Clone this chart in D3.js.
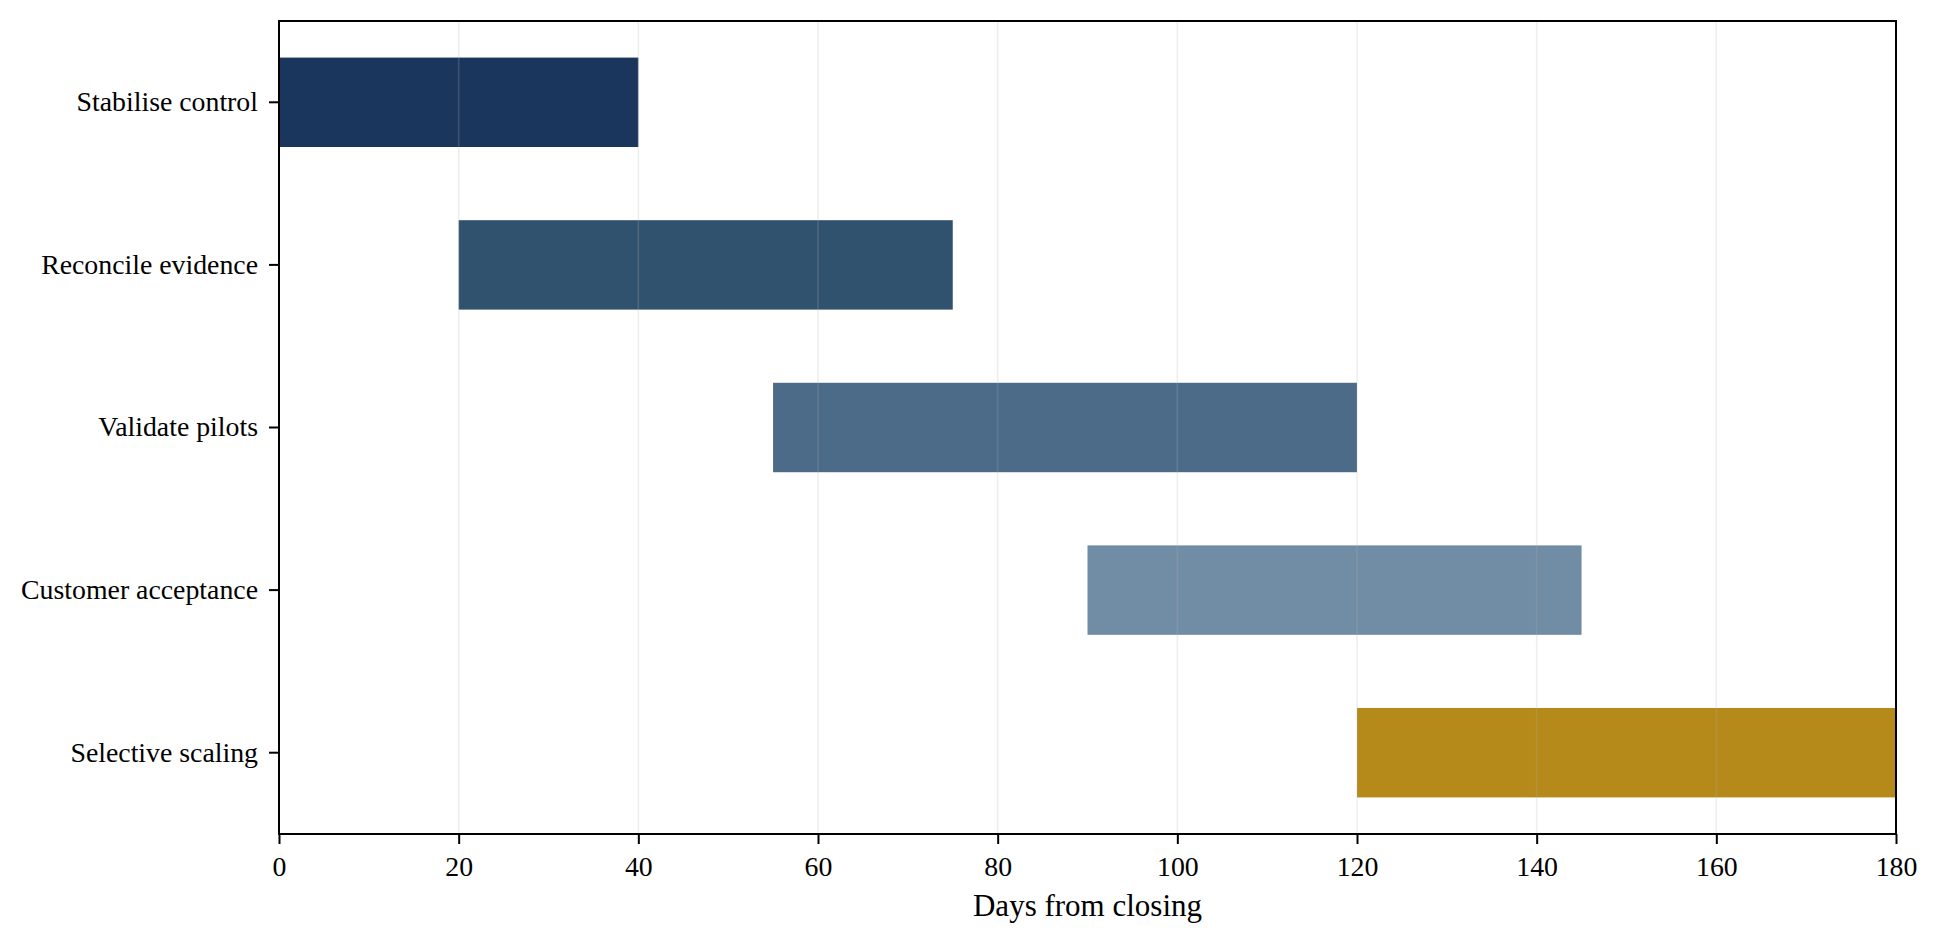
<!DOCTYPE html>
<html>
<head>
<meta charset="utf-8">
<script src="https://cdn.jsdelivr.net/npm/d3@7"></script>
<style>
    body { margin: 0; background: #fff; }
    text { font-family: "Liberation Serif", "Times New Roman", serif; fill: #000; }
</style>
</head>
<body>
<div id="chart"></div>
<script>
var tasks = ["Stabilise control", "Reconcile evidence", "Validate pilots", "Customer acceptance", "Selective scaling"];
var starts = [0, 20, 55, 90, 120];
var ends = [40, 75, 120, 145, 180];
var colors = ["#1b365d", "#31526f", "#4c6b88", "#718ca5", "#b5891a"];
var xTicks = [0, 20, 40, 60, 80, 100, 120, 140, 160, 180];

var width = 1938;
var height = 945;
var leftMargin = 279;
var rightMargin = 42;
var topMargin = 21;
var bottomMargin = 111;
var plotW = width - leftMargin - rightMargin;
var plotH = height - topMargin - bottomMargin;

var rows = tasks.map(function(t, i) {
    return { task: t, start: starts[i], end: ends[i], color: colors[i] };
});

// x scale
var xScale = d3.scaleLinear()
    .domain([0, 180])
    .range([0, plotW]);

// y scale, one band per task
var yScale = d3.scaleBand()
    .domain(tasks)
    .range([0, plotH])
    .paddingInner(0.45)
    .paddingOuter(0.225);

var svg = d3.select("#chart")
    .append("svg")
    .attr("width", width)
    .attr("height", height);

var canvas = svg.append("g")
    .attr("transform", "translate(" + leftMargin + "," + topMargin + ")");

// bars
canvas.append("g")
    .selectAll("rect")
    .data(rows)
    .enter()
    .append("rect")
    .attr("x", function(d) { return xScale(d.start); })
    .attr("y", function(d) { return yScale(d.task); })
    .attr("width", function(d) { return xScale(d.end) - xScale(d.start); })
    .attr("height", yScale.bandwidth())
    .style("fill", function(d) { return d.color; });

// vertical grid, drawn over the bars
canvas.append("g")
    .selectAll("line")
    .data(xTicks)
    .enter()
    .append("line")
    .attr("x1", function(d) { return xScale(d); })
    .attr("x2", function(d) { return xScale(d); })
    .attr("y1", 0)
    .attr("y2", plotH)
    .style("stroke", "#b0b0b0")
    .style("stroke-opacity", 0.22)
    .style("stroke-width", 1.6);

// x axis
var x_axis = d3.axisBottom(xScale)
    .tickValues(xTicks)
    .tickSize(10)
    .tickPadding(12)
    .tickSizeOuter(0);

var gx = canvas.append("g")
    .attr("transform", "translate(0," + plotH + ")")
    .call(x_axis);
gx.select(".domain").remove();
gx.selectAll(".tick line").style("stroke", "#000").style("stroke-width", 2);
gx.selectAll(".tick text").style("font-size", "27.8px").style("font-family", "Liberation Serif");

// y axis
var y_axis = d3.axisLeft(yScale)
    .tickSize(10)
    .tickPadding(11)
    .tickSizeOuter(0);

var gy = canvas.append("g")
    .call(y_axis);
gy.select(".domain").remove();
gy.selectAll(".tick line").style("stroke", "#000").style("stroke-width", 2);
gy.selectAll(".tick text").style("font-size", "27.8px").style("font-family", "Liberation Serif");

// frame
canvas.append("rect")
    .attr("x", 0)
    .attr("y", 0)
    .attr("width", plotW)
    .attr("height", plotH)
    .style("fill", "none")
    .style("stroke", "#000")
    .style("stroke-width", 2);

// x axis label
canvas.append("text")
    .attr("x", plotW / 2)
    .attr("y", plotH + 82)
    .style("text-anchor", "middle")
    .style("font-size", "31px")
    .text("Days from closing");
</script>
</body>
</html>
